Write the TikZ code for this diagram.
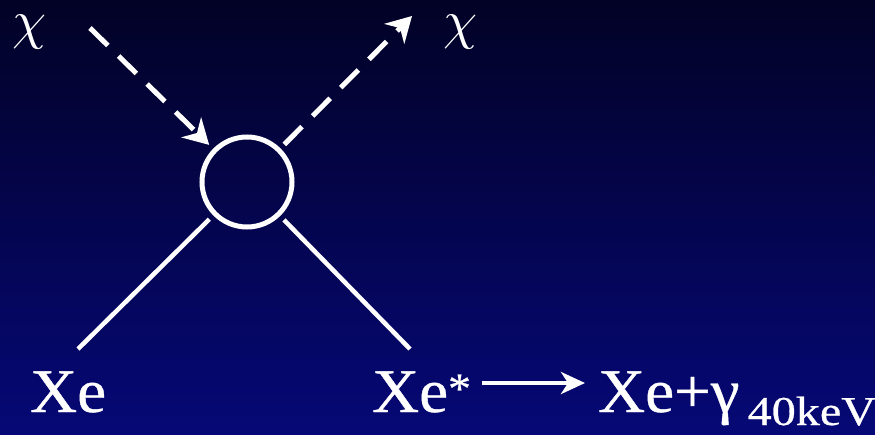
\documentclass[tikz,border=0pt]{standalone}
\usepackage{graphicx}
\usepackage{fontspec}
\setmainfont{Liberation Serif}[FakeStretch=1.05, FakeBold=0.6]
\usetikzlibrary{arrows.meta}

\begin{document}
\begin{tikzpicture}[
  x=1pt, y=-1pt,
  bigtxt/.style={font=\fontsize{62}{70}\selectfont, text=white, inner sep=0pt},
  chitxt/.style={text=white, inner sep=0pt},
  vtx/.style={circle, draw=white, line width=5pt, minimum size=90pt, inner sep=0pt, outer sep=8pt},
  dsh/.style={white, line width=5pt, dash pattern=on 25pt off 15pt,
              -{Stealth[length=25pt, width=28pt, inset=8pt]}},
  leg/.style={white, line width=4.5pt},
  fwd/.style={white, line width=4.5pt, -{Stealth[length=24pt, width=22pt, inset=7pt]}},
]

%% ── Colours ──────────────────────────────────────────────────────────────────
\definecolor{bgTop}{RGB}{2,2,38}
\definecolor{bgMid}{RGB}{3,4,72}
\definecolor{bgBot}{RGB}{6,8,118}

%% ── Background ───────────────────────────────────────────────────────────────
\shade[top color=bgTop, middle color=bgMid, bottom color=bgBot] (0,0) rectangle (875,434);
\useasboundingbox (0,0) rectangle (875,434);

%% ── Vertex and particle labels ───────────────────────────────────────────────
\node[vtx] (vtx) at (247,182) {};
\node[chitxt] (chiIn)  at (30,32)  {\resizebox{34pt}{!}{$\chi$}};
\node[chitxt] (chiOut) at (461,32) {\resizebox{34pt}{!}{$\chi$}};
\node[bigtxt, anchor=base west] (xeL)    at (30,412)  {Xe};
\node[bigtxt, anchor=base west] (xeStar) at (372,412) {Xe\textsuperscript{*}};
\node[bigtxt, anchor=base west] (xeProd) at (598,412)
  {Xe+γ\hspace{8pt}\raisebox{-13pt}{\fontsize{41}{48}\selectfont\scalebox{1.12}[1]{40keV}}};

%% ── Free line ends ───────────────────────────────────────────────────────────
\coordinate (inStart) at (90,28);
\coordinate (outEnd)  at (412,16);
\coordinate (legL)    at (78,349);
\coordinate (legR)    at (410,349);

%% ── Dark-matter lines (dashed) ──────────────────────────────────────────────
\draw[dsh] (inStart) -- (vtx);
\draw[dsh] (vtx) -- (outEnd);

%% ── Xenon lines (solid) ─────────────────────────────────────────────────────
\draw[leg] (vtx) -- (legL);
\draw[leg] (vtx) -- (legR);

%% ── De-excitation arrow ──────────────────────────────────────────────────────
\draw[fwd] ([xshift=10pt, yshift=29pt]xeStar.base east) -- ([xshift=-13pt, yshift=29pt]xeProd.base west);

\end{tikzpicture}
\end{document}
